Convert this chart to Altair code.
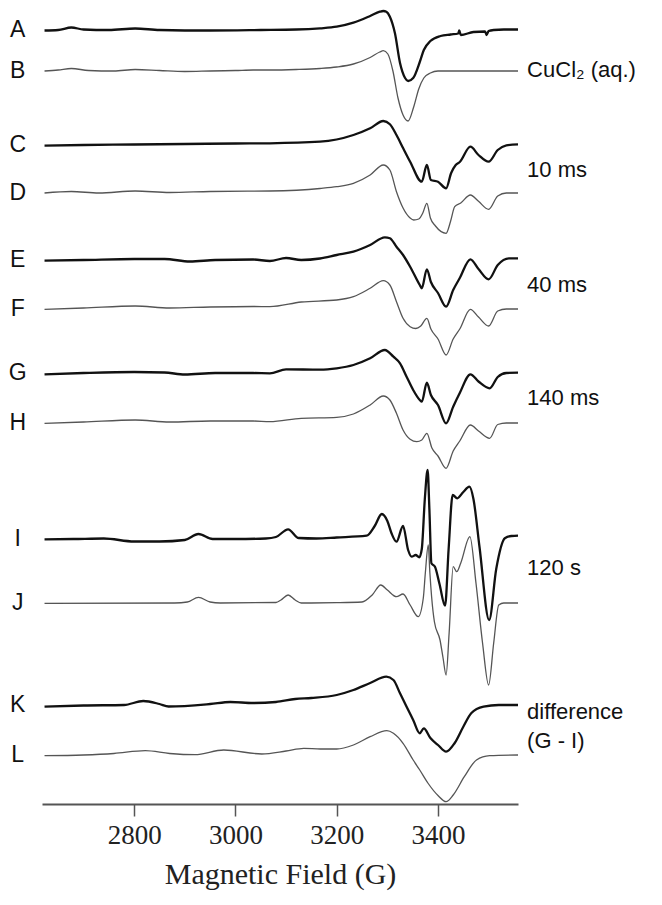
import altair as alt
import pandas as pd

# ---- trace data: magnetic field (G) and signal (arbitrary units, up = positive) ----
FIELD_A = [2623, 2650, 2676, 2700, 2750, 2802, 2850, 2950, 3050, 3120, 3167, 3200, 3233, 3266, 3285, 3292, 3298,
           3305, 3315, 3325, 3335, 3341, 3351, 3364, 3372, 3385, 3405, 3425, 3440, 3442, 3445, 3470, 3493, 3496,
           3500, 3510, 3530, 3558]
SIG_A = [-0.5, 0, 2.5, 0.5, 0, 1.5, 0, -0.5, 0, 0.5, 1.7, 3.3, 7.3, 14, 18.3, 19, 18.3,
         13.3, -3.3, -33, -48, -51, -48, -32, -20, -11, -6, -4.5, -3.5, -0.5, -5, -2, -1.5, -5,
         -1, 0, 0.5, 0.5]

FIELD_B = [2623, 2650, 2676, 2710, 2760, 2802, 2850, 2900, 2950, 3000, 3035, 3068, 3120, 3167, 3200, 3233, 3266,
           3285, 3292, 3301, 3311, 3321, 3331, 3341, 3352, 3362, 3372, 3385, 3400, 3558]
SIG_B = [0, 1, 2.5, 0.5, 0, 1.5, 0.5, -0.5, 0, 0.5, 1, 1, 1.5, 2.5, 4, 7, 13.5,
         19, 20.3, 17, 0, -27, -44, -50, -36, -18, -7, -2, 0, 0]

FIELD_C = [2623, 2700, 2800, 2900, 3000, 3068, 3167, 3233, 3266, 3292, 3305, 3318, 3331, 3345, 3368, 3378, 3386,
           3400, 3416, 3426, 3435, 3443, 3464, 3480, 3500, 3518, 3535, 3558]
SIG_C = [-0.7, 0, 0.5, 1, 1.5, 1.7, 3.3, 10, 16.7, 24, 20.7, 10, -3, -16.7, -36.7, -20, -35,
         -36.7, -43.3, -28, -20, -17, -1.7, -10, -16.7, -5, -0.3, 0.7]

FIELD_D = [2623, 2676, 2730, 2802, 2870, 2950, 3068, 3167, 3200, 3233, 3266, 3292, 3305, 3318, 3331, 3345, 3352,
           3362, 3370, 3378, 3385, 3395, 3416, 3425, 3433, 3445, 3464, 3480, 3500, 3518, 3535, 3558]
SIG_D = [0, 1.5, 0, 2, 0.5, 1.5, 2, 4.5, 6.3, 9.7, 18, 28, 23, 1.3, -15, -25, -27,
         -26, -20, -10.3, -25, -33, -40.3, -28, -13.7, -10, -2, -8.3, -16.3, -3, 0, 0]

FIELD_E = [2623, 2700, 2800, 2860, 2910, 2960, 3035, 3068, 3100, 3130, 3167, 3200, 3233, 3266, 3295, 3305, 3318,
           3331, 3345, 3364, 3368, 3378, 3386, 3400, 3416, 3430, 3443, 3464, 3480, 3500, 3518, 3540, 3558]
SIG_E = [-0.7, 0, 1, 1, -1.5, 0, 0.5, -1, 2, 0, 1.5, 5, 8.3, 15, 22.7, 21.7, 13.3,
         5, -6.7, -25, -28.3, -9.3, -22, -33, -46.7, -30, -18, 0.7, -9, -19.3, -5, 1.7, 1.7]

FIELD_F = [2623, 2700, 2802, 2870, 2950, 3035, 3068, 3130, 3200, 3233, 3266, 3292, 3305, 3318, 3331, 3345, 3356,
           3366, 3378, 3386, 3400, 3416, 3430, 3443, 3464, 3480, 3500, 3518, 3535, 3558]
SIG_F = [-0.3, 1, 3, 1, 2, 2.5, 2.3, 7, 9, 12.3, 20.7, 28.3, 24, 7.3, -9.3, -17.7, -19.5,
         -17, -9.3, -20, -30, -46, -30, -20, -0.3, -8, -17, -2, 0, 0]

FIELD_G = [2623, 2700, 2800, 2860, 2900, 2960, 3035, 3068, 3100, 3167, 3200, 3233, 3266, 3295, 3312, 3325, 3338,
           3351, 3364, 3368, 3378, 3386, 3400, 3416, 3430, 3443, 3464, 3480, 3502, 3518, 3535, 3558]
SIG_G = [-1.3, 0, 1, 0.5, -1.5, 0, 0, -0.3, 3.7, 3.3, 4.7, 8, 14.7, 23, 16.3, 9.7, -3.7,
         -17, -27, -28.7, -9.7, -22, -32, -50.3, -33.7, -20, -1.3, -8.5, -15.3, -4, 0, 0.3]

FIELD_H = [2623, 2700, 2802, 2870, 2950, 3035, 3068, 3130, 3200, 3233, 3266, 3292, 3305, 3318, 3331, 3345, 3358,
           3368, 3378, 3388, 3400, 3416, 3430, 3443, 3464, 3480, 3502, 3518, 3535, 3558]
SIG_H = [-0.3, 1, 3, 1, 2, 2, 1.3, 4.7, 5.7, 9, 18, 27, 23, 9.7, -7, -16.3, -18.7,
         -17, -10.3, -25, -33, -45.3, -28, -18, -2, -8, -15.3, -1.5, 0, 0]

FIELD_I = [2623, 2680, 2740, 2800, 2850, 2900, 2927, 2955, 3000, 3060, 3080, 3104, 3125, 3160, 3200, 3259, 3275,
           3289, 3300, 3308, 3318, 3331, 3341, 3348, 3356, 3363, 3368, 3374, 3379.5, 3383, 3387, 3394, 3403,
           3414, 3421, 3429, 3438, 3450, 3462, 3470, 3482, 3501, 3515, 3532, 3545, 3558]
SIG_I = [-0.3, 0, 0.5, -2.5, -2.5, -1, 5, 0, 0, 0.5, 2, 9.7, 1, 0.5, 1.5, 3.3, 13,
         25, 18, 6, -2.7, 13, -11, -17.7, -16, -18.3, -10, 40, 69, 30, -24.3, -27.7, -45,
         -66.7, -10, 44, 40.7, 47, 52.3, 40, -8, -81, -30, 0.7, 3, 3.3]

FIELD_J = [2623, 2880, 2905, 2927, 2950, 2970, 3080, 3090, 3104, 3118, 3130, 3200, 3250, 3270, 3287, 3300, 3318,
           3331, 3345, 3361, 3371, 3375, 3380.8, 3384, 3387.4, 3393, 3404, 3410, 3416, 3422, 3430, 3437, 3445,
           3463, 3475, 3488, 3500, 3510, 3520, 3530, 3558]
SIG_J = [-0.3, 0, 1, 5.7, 1, 0, 0.5, 3, 8, 3, 0, 0.3, 1, 8, 18, 13, 6.3,
         9, -2, -13.7, 5, 30, 58, 30, 6.3, -19, -37, -55, -72, -30, 36.3, 31.3, 40,
         66.3, 20, -40, -82, -40, -2, 0, 0]

FIELD_K = [2623, 2700, 2780, 2818, 2850, 2868, 2950, 2990, 3035, 3080, 3118, 3150, 3200, 3233, 3266, 3298, 3312,
           3325, 3338, 3351, 3364, 3372, 3385, 3400, 3416, 3433, 3450, 3466, 3490, 3520, 3558]
SIG_K = [-1.7, -0.5, 0, 4, 1, -1.5, 1, 3, 2, 3, 6, 7, 10, 15, 22, 28.3, 25,
         11.7, -1.7, -15, -28.3, -23.3, -33, -40, -46.7, -38, -21.7, -8, -1.7, 0, 0]

FIELD_L = [2623, 2700, 2760, 2822, 2870, 2920, 2977, 3052, 3100, 3135, 3168, 3200, 3233, 3266, 3299, 3312, 3331,
           3351, 3364, 3380, 3400, 3416, 3430, 3452, 3476, 3502, 3558]
SIG_L = [-0.7, 0, 1.5, 4.3, 1.5, 0.3, 5, 1, 4, 6.7, 6, 6, 10, 18.3, 24.3, 21.7, 11.7,
         -5, -15, -28, -40.5, -46.7, -40, -21.7, -5, -0.7, 0]

TRACE_NAMES = ["A", "B", "C", "D", "E", "F", "G", "H", "I", "J", "K", "L"]
TRACE_KIND = ["data", "fit", "data", "fit", "data", "fit", "data", "fit", "data", "fit", "data", "fit"]
TRACE_OFFSET = [774, 733, 659, 611, 544, 495, 431, 381, 265, 201, 99, 49]

CONDITION_LABELS = ["CuCl\u2082 (aq.)", "10 ms", "40 ms", "140 ms", "120 s", "difference", "(G - I)"]
CONDITION_Y = [734, 634, 519, 406, 236, 92, 63]

TICKS = [2800, 3000, 3200, 3400]
X_DOMAIN = [2618, 3558]
LEFT_LABEL_X = 2570
RIGHT_LABEL_X = 3576

fields = [FIELD_A, FIELD_B, FIELD_C, FIELD_D, FIELD_E, FIELD_F,
          FIELD_G, FIELD_H, FIELD_I, FIELD_J, FIELD_K, FIELD_L]
sigs = [SIG_A, SIG_B, SIG_C, SIG_D, SIG_E, SIG_F,
        SIG_G, SIG_H, SIG_I, SIG_J, SIG_K, SIG_L]

rows = []
for name, kind, off, f, s in zip(TRACE_NAMES, TRACE_KIND, TRACE_OFFSET, fields, sigs):
    for fx, sy in zip(f, s):
        rows.append({"trace": name, "kind": kind, "field": fx, "y": off + sy})
df = pd.DataFrame(rows)
df_data = df[df["kind"] == "data"].reset_index(drop=True)
df_fit = df[df["kind"] == "fit"].reset_index(drop=True)

names_df = pd.DataFrame({"label": TRACE_NAMES, "y": TRACE_OFFSET, "x": [LEFT_LABEL_X] * len(TRACE_NAMES)})
cond_df = pd.DataFrame({"label": CONDITION_LABELS, "y": CONDITION_Y, "x": [RIGHT_LABEL_X] * len(CONDITION_LABELS)})

xscale = alt.Scale(domain=X_DOMAIN, nice=False, zero=False)
yscale = alt.Scale(domain=[0, 796], nice=False, zero=False)

xaxis = alt.Axis(values=TICKS, format="d", title="Magnetic Field (G)", grid=False,
                 labelFont="Liberation Serif", labelFontSize=27, labelColor="#222",
                 labelPadding=6, tickSize=12, tickWidth=1.5, tickColor="#555",
                 domainColor="#555", domainWidth=1.8,
                 titleFont="Liberation Serif", titleFontSize=30, titleFontWeight="normal",
                 titleColor="#222", titlePadding=11)


def xenc(field):
    return alt.X(field, scale=xscale, axis=xaxis)


def yenc(field):
    return alt.Y(field, scale=yscale, axis=None)


fit_lines = alt.Chart(df_fit).mark_line(
    color="#555", strokeWidth=1.3, interpolate="monotone"
).encode(x=xenc("field:Q"), y=yenc("y:Q"), detail="trace:N")

data_lines = alt.Chart(df_data).mark_line(
    color="#111", strokeWidth=2.3, interpolate="monotone"
).encode(x=xenc("field:Q"), y=yenc("y:Q"), detail="trace:N")

left_text = alt.Chart(names_df).mark_text(
    font="Liberation Sans", fontSize=23, align="center", baseline="middle", color="#111"
).encode(x=xenc("x:Q"), y=yenc("y:Q"), text="label:N")

right_text = alt.Chart(cond_df).mark_text(
    font="Liberation Sans", fontSize=22, align="left", baseline="middle", color="#111"
).encode(x=xenc("x:Q"), y=yenc("y:Q"), text="label:N")

chart = alt.layer(fit_lines, data_lines, left_text, right_text).properties(
    width=476, height=796,
    autosize="none",
    padding={"left": 34, "top": 0, "right": 136, "bottom": 93},
    background="white",
).configure_view(stroke=None)

chart.save("out.html", embed_options={"renderer": "svg", "actions": False})
